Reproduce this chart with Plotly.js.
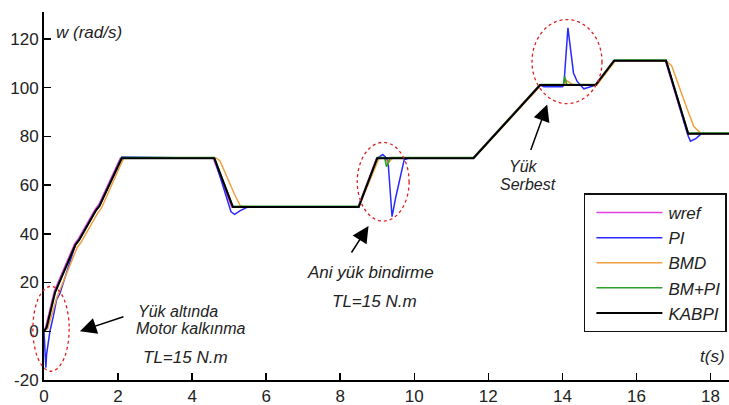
<!DOCTYPE html>
<html>
<head>
<meta charset="utf-8">
<script src="https://cdn.plot.ly/plotly-3.0.1.min.js"></script>
<style>html,body{margin:0;padding:0;background:#fff;}#chart{width:729px;height:405px;}</style>
</head>
<body>
<div id="chart"></div>
<script>
// ---- data ----
const seriesNames = ['wref', 'PI', 'BMD', 'BM+PI', 'KABPI'];

const tRef = [0, 0.05, 0.28, 0.83, 0.93, 1.38, 1.48, 2.06, 4.57, 5.07, 8.48, 8.98, 11.58, 13.38, 14.88, 15.38, 16.78, 17.38, 18.5];
const wRef = [0, 2, 16.5, 36, 38, 50, 52, 71, 71, 51, 51, 71, 71, 101, 101, 111, 111, 81, 81];

const tPI = [0, 0.03, 0.05, 0.07, 0.14, 0.16, 0.25, 0.34, 0.43, 0.85, 0.95, 1.4, 1.5, 2.1, 4.6, 5.05, 5.15, 5.3, 5.5, 8.5, 9.0, 9.15, 9.25, 9.3, 9.4, 9.5, 9.73, 9.85, 11.6, 13.4, 13.5, 14.0, 14.04, 14.15, 14.3, 14.4, 14.58, 14.85, 14.9, 15.4, 16.8, 17.4, 17.46, 17.6, 17.75, 18.5];
const wPI = [0, -13, -15, -9.5, -3, 0, 6, 13, 15.5, 35.5, 37.5, 49.5, 51.5, 71.5, 71, 49, 48, 49.5, 51, 51, 71, 72.5, 71, 68, 47, 55, 70.5, 71, 71, 101, 100.3, 100.3, 101, 124.5, 106, 102.5, 99.5, 101, 101, 111, 111, 80, 78, 79, 81, 81];

const tBMD = [0, 0.1, 0.35, 0.9, 1.0, 1.45, 1.55, 2.15, 4.65, 4.75, 5.15, 5.3, 5.4, 8.5, 9.05, 9.2, 9.3, 9.4, 11.6, 13.43, 14.05, 14.1, 14.2, 14.3, 14.93, 15.43, 16.8, 16.95, 17.35, 17.55, 17.75, 18.5];
const wBMD = [0, 1, 14, 34.5, 36.5, 48.5, 50.5, 71, 71, 70, 56, 51.5, 51, 51, 71, 71, 69, 71, 71, 101, 101, 103, 102, 101, 101, 111, 111, 109, 92, 84, 81, 81];

const tBMPI = [0, 0.07, 0.3, 0.85, 0.95, 1.4, 1.5, 2.1, 4.6, 5.1, 8.5, 9.0, 9.2, 9.25, 9.35, 11.6, 13.4, 14.03, 14.06, 14.12, 14.9, 15.4, 16.8, 17.4, 18.5];
const wBMPI = [0, 1.5, 16, 35.5, 37.5, 49.5, 51.5, 71.3, 71.3, 51.3, 51.3, 71.3, 71.3, 67.5, 71.3, 71.3, 101.3, 101.3, 104.5, 101.3, 101.3, 111.3, 111.3, 81.3, 81.3];

const tKAB = [0, 0.07, 0.3, 0.85, 0.95, 1.4, 1.5, 2.1, 4.6, 5.1, 8.5, 9.0, 11.6, 13.4, 14.9, 15.4, 16.8, 17.4, 18.5];
const wKAB = [0, 1.5, 16, 35.5, 37.5, 49.5, 51.5, 71, 71, 51, 51, 71, 71, 101, 101, 111, 111, 81, 81];

const xTicks = [0, 2, 4, 6, 8, 10, 12, 14, 16, 18];
const yTicks = [-20, 0, 20, 40, 60, 80, 100, 120];

// ---- chart ----
const X_RANGE = [0, 18.5];
const Y_RANGE = [-20, 131];
const px = t => (t - X_RANGE[0]) / (X_RANGE[1] - X_RANGE[0]);
const py = w => (w - Y_RANGE[0]) / (Y_RANGE[1] - Y_RANGE[0]);

const colors = ['#e040e0', '#2a2aff', '#f0a040', '#2ca02c', '#000000'];
const widths = [1.5, 1.5, 1.5, 1.5, 2];
const xs = [tRef, tPI, tBMD, tBMPI, tKAB];
const ys = [wRef, wPI, wBMD, wBMPI, wKAB];

const traces = seriesNames.map((n, i) => ({
  x: xs[i], y: ys[i], name: n, type: 'scatter', mode: 'lines',
  line: {color: colors[i], width: widths[i]}
}));

const FAM = 'Liberation Sans, Arial, sans-serif';
function label(text, x, y, size, xanchor) {
  return {text: text, x: x, y: y, xref: 'x', yref: 'y', showarrow: false,
          xanchor: xanchor || 'center', yanchor: 'middle',
          font: {family: FAM, size: size || 17, color: '#222', style: 'italic'}};
}
function arrow(x, y, ax, ay) {
  return {text: '', x: x, y: y, xref: 'x', yref: 'y', ax: ax, ay: ay,
          showarrow: true, arrowhead: 2, arrowsize: 2.2, arrowwidth: 1.5, arrowcolor: '#000'};
}
function ellipse(t0, t1, w0, w1) {
  return {type: 'circle', xref: 'paper', yref: 'paper', x0: px(t0), x1: px(t1), y0: py(w0), y1: py(w1),
          line: {color: '#e02020', width: 1.3, dash: 'dot'}};
}

const layout = {
  width: 729, height: 405,
  margin: {l: 44, r: 0, t: 12, b: 25},
  paper_bgcolor: '#fff', plot_bgcolor: '#fff',
  showlegend: true,
  legend: {x: 0.788, y: 0.507, xanchor: 'left', yanchor: 'top',
           bgcolor: '#fff', bordercolor: '#111', borderwidth: 1.6,
           font: {family: FAM, size: 17, color: '#222', style: 'italic'},
           itemwidth: 73},
  xaxis: {range: X_RANGE, tickvals: xTicks, ticktext: xTicks.map(String),
          ticks: 'inside', ticklen: 7, tickwidth: 1.5, tickcolor: '#000',
          showline: true, linecolor: '#000', linewidth: 2, showgrid: false, zeroline: false,
          tickfont: {family: FAM, size: 17, color: '#222'}},
  yaxis: {range: Y_RANGE, tickvals: yTicks, ticktext: yTicks.map(String),
          ticks: 'inside', ticklen: 7, tickwidth: 1.5, tickcolor: '#000',
          showline: true, linecolor: '#000', linewidth: 2, showgrid: false, zeroline: false,
          tickfont: {family: FAM, size: 17, color: '#222'}},
  shapes: [
    ellipse(-0.3, 0.68, -16.4, 18.4),
    ellipse(8.46, 9.86, 45.2, 77.5),
    ellipse(13.18, 15.07, 93.4, 127.9)
  ],
  annotations: [
    label('w (rad/s)', 0.28, 122.5, 17, 'left'),
    label('t(s)', 18.05, -10.2),
    label('Yük altında', 3.62, 8.2, 16),
    label('Motor kalkınma', 3.96, 1.2, 16),
    label('TL=15 N.m', 3.81, -10.6),
    label('Ani yük bindirme', 8.81, 24.2),
    label('TL=15 N.m', 8.92, 12.3),
    label('Yük', 12.95, 67.6, 16),
    label('Serbest', 13.07, 60.4, 16),
    arrow(0.97, 0, 45, -15),
    arrow(8.765, 43.2, -18, 28),
    arrow(13.59, 93, -17, 47)
  ]
};

function trimLegendLines() {
  // start the legend line samples a little further right, as in the reference
  document.querySelectorAll('#chart .legend .legendlines path').forEach(p => p.setAttribute('d', 'M11,0h66'));
}
Plotly.newPlot('chart', traces, layout, {displayModeBar: false, staticPlot: true}).then(() => {
  trimLegendLines();
  setTimeout(trimLegendLines, 30);
});
</script>
</body>
</html>
